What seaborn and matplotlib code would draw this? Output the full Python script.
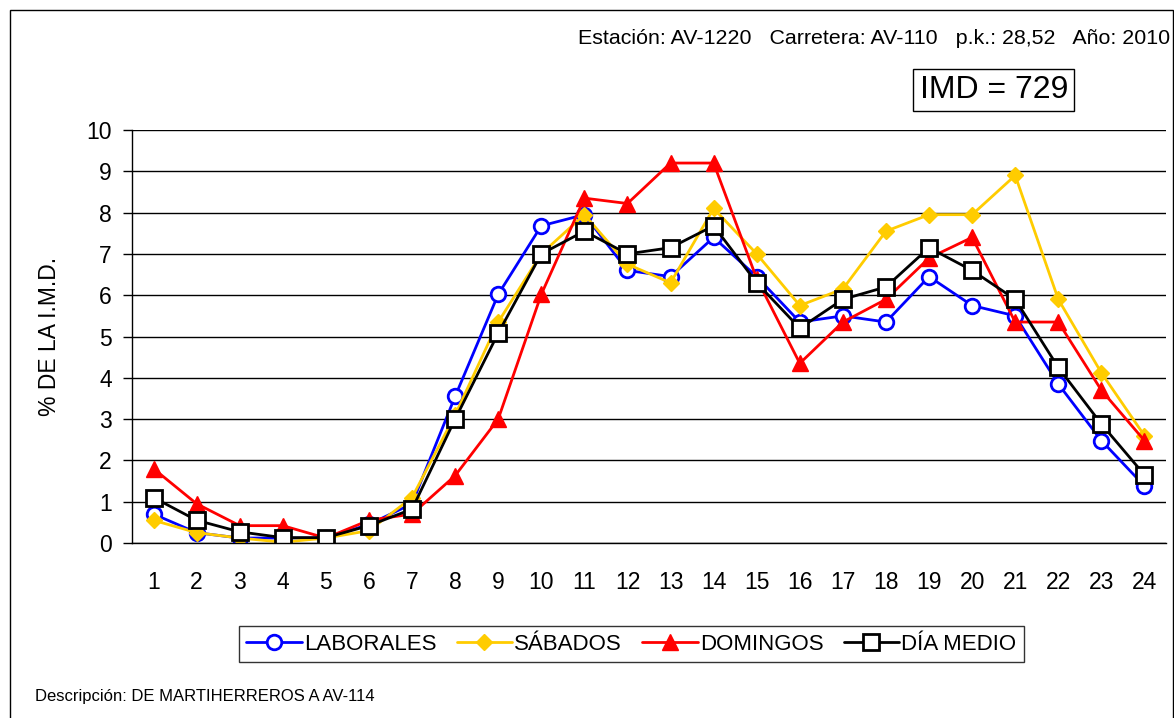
import matplotlib
matplotlib.use("Agg")
import matplotlib.pyplot as plt
import seaborn as sns
import pandas as pd
from matplotlib.patches import Rectangle

hours = list(range(1, 25))
laborales = [0.70, 0.25, 0.12, 0.12, 0.12, 0.45, 0.95, 3.55, 6.02, 7.68, 7.95, 6.60,
             6.45, 7.40, 6.45, 5.35, 5.50, 5.35, 6.45, 5.75, 5.50, 3.85, 2.48, 1.38]
sabados = [0.55, 0.25, 0.12, 0.02, 0.12, 0.30, 1.10, 3.10, 5.35, 7.00, 7.95, 6.75,
           6.30, 8.10, 7.00, 5.75, 6.15, 7.55, 7.95, 7.95, 8.90, 5.90, 4.12, 2.60]
domingos = [1.80, 0.95, 0.42, 0.42, 0.12, 0.55, 0.70, 1.63, 3.00, 6.02, 8.35, 8.22,
            9.20, 9.20, 6.40, 4.35, 5.35, 5.90, 6.90, 7.40, 5.35, 5.35, 3.70, 2.48]
dia_medio = [1.10, 0.55, 0.27, 0.13, 0.13, 0.42, 0.82, 3.00, 5.08, 7.00, 7.55, 7.00,
             7.15, 7.68, 6.30, 5.20, 5.90, 6.20, 7.15, 6.60, 5.90, 4.25, 2.88, 1.65]
series_names = ["LABORALES", "SÁBADOS", "DOMINGOS", "DÍA MEDIO"]

sns.set_theme(style="white")
plt.rcParams['font.family'] = ['Liberation Sans', 'DejaVu Sans']
plt.rcParams.update({"text.color": "black", "axes.labelcolor": "black",
                     "xtick.color": "black", "ytick.color": "black"})

fig = plt.figure(figsize=(11.74, 7.18), dpi=100)
ax = fig.add_axes([132 / 1174, 1 - 543 / 718, (1166 - 132) / 1174, (543 - 130) / 718])

# outer frame of the chart
fig.patches.append(Rectangle((10 / 1174, -0.01), 1163 / 1174, 1 - 10 / 718 + 0.01,
                             transform=fig.transFigure, fill=False, ec="black", lw=1))

styles = [
    dict(color="#0000FF", marker="o", mfc="white", mec="#0000FF", ms=10.5, mew=2),
    dict(color="#FFCC00", marker="D", mfc="#FFCC00", mec="#FFCC00", ms=8.5, mew=1),
    dict(color="#FF0000", marker="^", mfc="#FF0000", mec="#FF0000", ms=11, mew=1),
    dict(color="black", marker="s", mfc="white", mec="black", ms=11, mew=2),
]
for name, vals, st in zip(series_names, [laborales, sabados, domingos, dia_medio], styles):
    df = pd.DataFrame({"hora": hours, "pct": vals})
    sns.lineplot(data=df, x="hora", y="pct", ax=ax, label=name, lw=2, **st)

ax.set_xlim(0.5, 24.5)
ax.set_ylim(0, 10)
ax.set_yticks(range(0, 11))
ax.set_xticks(hours)
ax.set_xticks([h + 0.5 for h in range(0, 25)], minor=True)
ax.tick_params(axis="x", which="major", length=0, labelsize=16.5, pad=20, colors="black")
ax.tick_params(axis="x", which="minor", length=6.5, width=1, color="black", direction="out")
ax.tick_params(axis="y", which="major", length=6.5, width=1, color="black", direction="out",
               labelsize=16.5, left=True, pad=8, labelcolor="black")
ax.grid(axis="y", color="black", lw=1)
ax.set_axisbelow(True)
for s in ["top", "right"]:
    ax.spines[s].set_visible(False)
for s in ["left", "bottom"]:
    ax.spines[s].set_color("black")
    ax.spines[s].set_linewidth(1)
ax.set_xlabel("")
ax.set_ylabel("% DE LA I.M.D.", fontsize=16.5, labelpad=18, color="black")

leg = ax.legend(loc="center", bbox_to_anchor=(0.483, -0.245), ncol=4, frameon=True, fancybox=False,
                edgecolor="black", fontsize=16, handlelength=2.5, handletextpad=0.1,
                columnspacing=0.9, borderpad=0.35)
leg.get_frame().set_linewidth(1)
for t in leg.get_texts():
    t.set_color("black")

fig.text(1170 / 1174, 1 - 38 / 718, "Estación: AV-1220   Carretera: AV-110   p.k.: 28,52   Año: 2010",
         ha="right", va="center", fontsize=15.4)
fig.text(1068 / 1174, 1 - 90 / 718, "IMD = 729", ha="right", va="center", fontsize=23,
         bbox=dict(boxstyle="square,pad=0.2", fc="white", ec="black", lw=1))
fig.text(35 / 1174, 1 - 697 / 718, "Descripción: DE MARTIHERREROS A AV-114", ha="left",
         va="center", fontsize=12)

fig.savefig("out.png", dpi=100)
